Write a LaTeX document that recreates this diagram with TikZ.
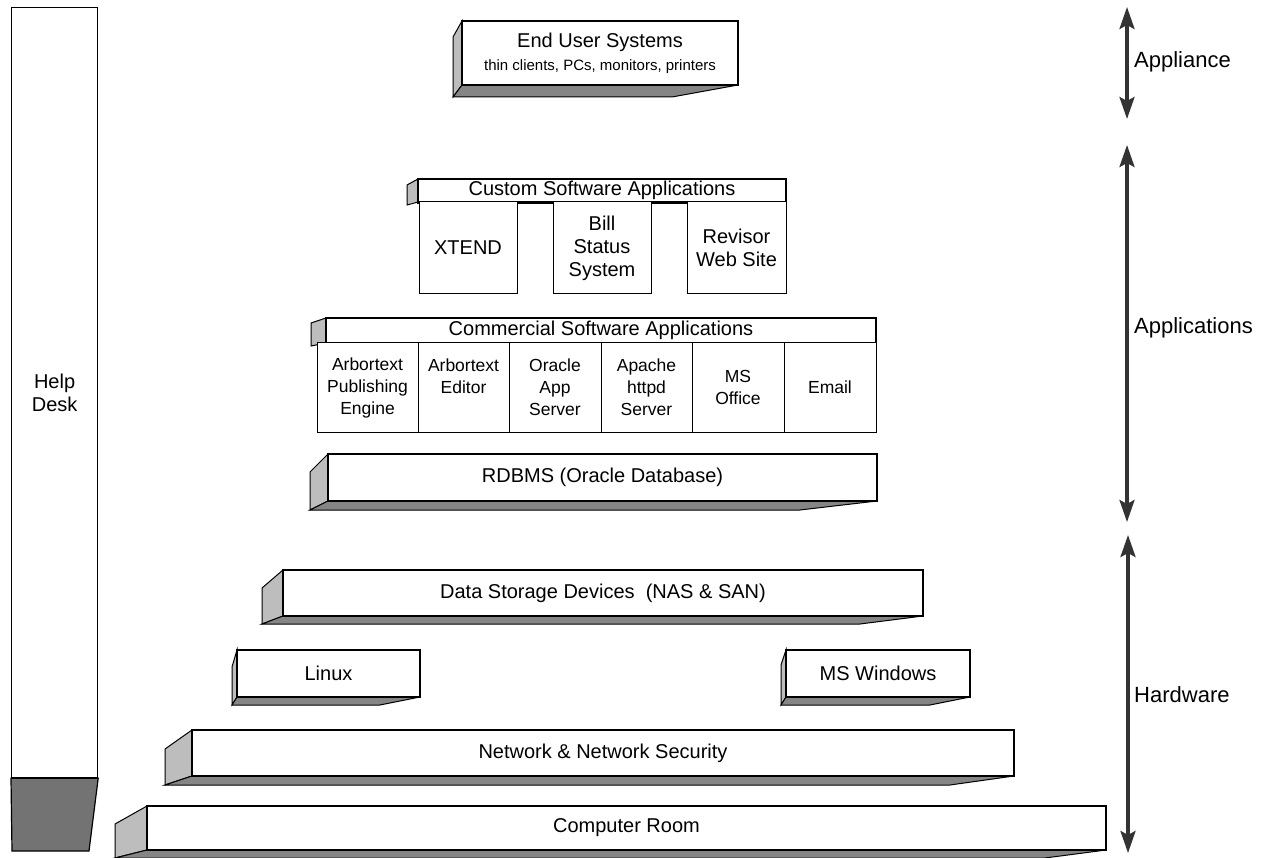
\documentclass[tikz,border=0pt]{standalone}
\usepackage{fontspec}
\setmainfont{Liberation Sans}
\usetikzlibrary{arrows.meta}
\definecolor{sidegray}{gray}{0.74}
\definecolor{basegray}{gray}{0.52}
\definecolor{deskgray}{gray}{0.45}
\definecolor{arrowgray}{gray}{0.2}

\tikzset{
  face/.style={draw=black, line width=1.2pt, fill=white, inner sep=0pt},
  sideface/.style={draw=black, line width=1pt, fill=sidegray},
  baseface/.style={draw=black, line width=1pt, fill=basegray},
  boxtext/.style={font=\fontsize{20}{23}\selectfont, align=center},
  celltext/.style={font=\fontsize{17.5}{22}\selectfont, align=center},
  scalearrow/.style={draw=arrowgray, line width=3.2pt,
    {Stealth[length=22pt,width=15pt,inset=4pt]}-{Stealth[length=22pt,width=15pt,inset=4pt]}},
  scalelabel/.style={font=\fontsize{22}{24}\selectfont, anchor=west, inner sep=0pt},
}

\begin{document}
\begin{tikzpicture}[x=1pt, y=-1pt]
    \useasboundingbox (0,0) rectangle (1263,858);
    \def \subfont {\fontsize{15}{18}\selectfont};

    % help desk column, dark foot at the bottom
    \node[face, boxtext, minimum width=86pt, minimum height=770pt, anchor=north west] (helpdesk) at (11,7) {Help\\Desk};
    \filldraw[fill=deskgray, line width=1.2pt] (helpdesk.south west) -- (helpdesk.south east) -- (89,851) -- (12,851) -- cycle;

    % end user systems slab
    \filldraw[sideface] (462,21) -- (453,37) -- (453,97) -- (462,85) -- cycle;
    \filldraw[baseface] (462,85) -- (453,97) -- (672,97) -- (738,85) -- cycle;
    \node[face, boxtext, minimum width=276pt, minimum height=64pt] (enduser) at (600,53)
        {End User Systems\\\subfont thin clients, PCs, monitors, printers};

    % iterate on the slabs: front left/right, top, bottom, side x, side top, lower edge, end of lower edge
    \foreach \xa/\xb/\ya/\yb/\xs/\ys/\yl/\xe/\nm/\txt in {
        328/877/454/501/310/472/510/800/rdbms/RDBMS (Oracle Database),
        283/923/570/616/262/588/624/860/storage/Data Storage Devices~ (NAS \& SAN),
        237/420/650/697/232/667/705/380/linux/Linux,
        786/970/650/697/781/665/705/930/windows/MS Windows,
        192/1014/730/776/165/749/785/950/network/Network \& Network Security,
        147/1106/806/850/115/824/858/1045/room/Computer Room} {
        \pgfmathsetmacro{\slabw}{\xb-\xa}
        \pgfmathsetmacro{\slabh}{\yb-\ya}
        \filldraw[sideface] (\xa,\ya) -- (\xs,\ys) -- (\xs,\yl) -- (\xa,\yb) -- cycle;
        \filldraw[baseface] (\xa,\yb) -- (\xs,\yl) -- (\xe,\yl) -- (\xb,\yb) -- cycle;
        \node[face, boxtext, minimum width=\slabw pt, minimum height=\slabh pt]
            (\nm) at ({(\xa+\xb)/2},{(\ya+\yb)/2}) {\txt};
    }

    % custom software header and its three boxes
    \filldraw[sideface] (418,179) -- (407,185) -- (407,205) -- (418,202) -- cycle;
    \node[face, boxtext, minimum width=368pt, minimum height=23pt] (customhdr) at (602,190.5) {Custom Software Applications};
    \draw[line width=2.6pt] (customhdr.south west) -- (customhdr.south east);
    \foreach \xl/\xr/\nm/\txt in {419/517/xtend/XTEND, 553/651/billstatus/Bill\\Status\\System, 687/786/revisor/Revisor\\Web Site} {
        \pgfmathsetmacro{\cellw}{\xr-\xl}
        \node[face, boxtext, line width=1pt, minimum width=\cellw pt, minimum height=92pt] (\nm) at ({(\xl+\xr)/2},248) {\txt};
    }

    % commercial software header and its six cells
    \filldraw[sideface] (326,318) -- (311,323) -- (311,346) -- (326,343) -- cycle;
    \node[face, boxtext, minimum width=550pt, minimum height=25pt] (commercialhdr) at (601,330.5) {Commercial Software Applications};
    \foreach \xl/\xr/\nm/\txt in {317/418/atpublish/Arbortext\\Publishing\\Engine, 418/509/ateditor/Arbortext\\Editor\\~,
        509/601/oracleapp/Oracle\\App\\Server, 601/692/apache/Apache\\httpd\\Server, 692/784/msoffice/MS\\Office, 784/876/email/Email} {
        \pgfmathsetmacro{\cellw}{\xr-\xl}
        \node[face, celltext, line width=1pt, minimum width=\cellw pt, minimum height=89pt] (\nm) at ({(\xl+\xr)/2},387.5) {\txt};
    }

    % scale arrows on the right
    \coordinate (applianceTop) at (1127,7);
    \coordinate (applianceBot) at (1127,119);
    \coordinate (applicationsTop) at (1127,145);
    \coordinate (applicationsBot) at (1127,522);
    \coordinate (hardwareTop) at (1128,535);
    \coordinate (hardwareBot) at (1128,853);
    \draw[scalearrow] (applianceTop) -- (applianceBot);
    \draw[scalearrow] (applicationsTop) -- (applicationsBot);
    \draw[scalearrow] (hardwareTop) -- (hardwareBot);
    \node[scalelabel] (applianceLbl) at (1134,62) {Appliance};
    \node[scalelabel] (applicationsLbl) at (1134,328) {Applications};
    \node[scalelabel] (hardwareLbl) at (1134,695) {Hardware};
\end{tikzpicture}
\end{document}
